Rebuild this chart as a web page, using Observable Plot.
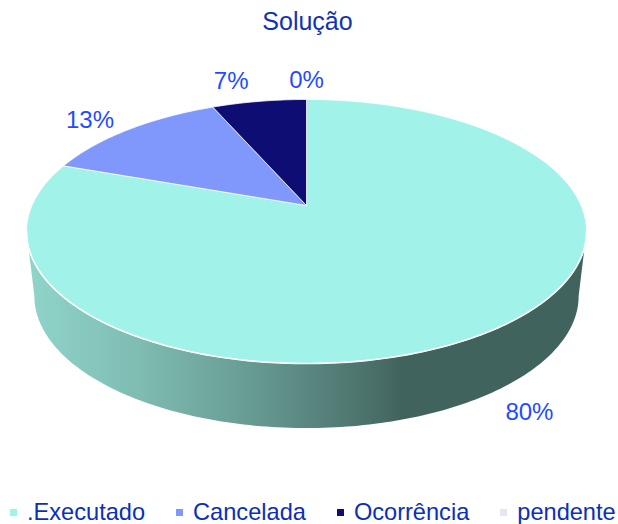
<!DOCTYPE html>
<html lang="pt">
<head>
<meta charset="utf-8">
<script src="https://cdn.jsdelivr.net/npm/d3@7"></script>
<script src="https://cdn.jsdelivr.net/npm/@observablehq/plot@0.6"></script>
<style>
  html, body { margin: 0; padding: 0; background: #fff; }
  #page { width: 618px; height: 524px; overflow: hidden; font-family: "Liberation Sans", Arial, sans-serif; position: relative; }
  #title { height: 40px; line-height: 42px; text-align: center; font-size: 25px; color: #0f33b5; padding-right: 3px; }
  #chart svg { display: block; background: transparent; }
  #legend { position: absolute; left: 10px; top: 501px; height: 23px; display: flex; gap: 31px; font-size: 23.6px; line-height: 23px; color: #0b2fb8; white-space: nowrap; }
  #legend .item { display: flex; align-items: center; gap: 10px; }
  #legend .swatch { width: 7px; height: 7px; display: block; }
</style>
</head>
<body>
<div id="page">
  <div id="title">Solução</div>
  <div id="chart"></div>
  <div id="legend"></div>
</div>
<script>
// Data
const categories = [".Executado", "Cancelada", "Ocorrência", "pendente"];
const shares = [80.4, 13.0, 6.6, 0];
const labels = ["80%", "13%", "7%", "0%"];
const colors = ["#a1f2e8", "#8098fb", "#0d0d73", "#e4e6f2"];

// Layout of the tilted disc
const apex = {x: 306, y: 205};
const depth = 64.5, baseShrink = 0.972, tilt = 0.197, radiusX = 274.5, radiusY = 126.9;
const labelNudge = [[34, 83], [-39, -9], [-28, -20], [0, -19]];
const wallStops = [[0, "#90d5ca"], [0.2, "#7fbcb2"], [0.42, "#64988f"], [0.62, "#4a6f69"], [0.67, "#41635e"], [1, "#41635e"]];

function rim(a) {
  const u = Math.sin(a), v = -Math.cos(a), w = 1 - tilt * v;
  return {x: apex.x + radiusX * u / w, y: apex.y + radiusY * v / w};
}
function base(a) {
  const p = rim(a);
  return {x: apex.x + (p.x - apex.x) * baseShrink, y: p.y + depth};
}
function sweep(a0, a1) {
  const n = Math.max(2, Math.ceil(Math.abs(a1 - a0) / (Math.PI / 180)));
  return d3.range(n + 1).map((i) => a0 + (a1 - a0) * i / n);
}

const arcs = d3.pie().sort(null).value((d) => d)(shares);
const slicePoints = arcs.filter((a) => a.value > 0).flatMap((a) => {
  const category = categories[a.index];
  return [{...apex, category}, ...sweep(a.startAngle, a.endAngle).map((t) => ({...rim(t), category})), {...apex, category}];
});

// Extremes of the disc seen from the viewer: where the wall starts and ends.
const sideAngle = Math.asin(tilt);
const wallFrom = Math.PI / 2 + sideAngle, wallTo = 3 * Math.PI / 2 - sideAngle;
const frontAngles = sweep(wallFrom, wallTo);
const wallPoints = [...frontAngles.map(rim), ...frontAngles.slice().reverse().map(base)];
const rimPoints = frontAngles.map(rim);

const labelMarks = arcs.map((a, i) => {
  const p = rim((a.startAngle + a.endAngle) / 2);
  return Plot.text([labels[i]], {
    x: () => p.x + labelNudge[i][0],
    y: () => p.y + labelNudge[i][1],
    text: (d) => d, fill: "#1f4cff", fontSize: 24,
    fontFamily: '"Liberation Sans", Arial, sans-serif', textAnchor: "middle"
  });
});

const plot = Plot.plot({
  width: 618, height: 450,
  marginTop: 0, marginRight: 0, marginBottom: 0, marginLeft: 0,
  x: {domain: [0, 618], range: [0, 618], axis: null},
  y: {domain: [40, 490], range: [0, 450], axis: null},
  color: {domain: categories, range: colors},
  marks: [
    () => {
      const ns = "http://www.w3.org/2000/svg";
      const defs = document.createElementNS(ns, "defs");
      const g = document.createElementNS(ns, "linearGradient");
      g.setAttribute("id", "wall");
      for (const [offset, color] of wallStops) {
        const s = document.createElementNS(ns, "stop");
        s.setAttribute("offset", offset);
        s.setAttribute("stop-color", color);
        g.appendChild(s);
      }
      defs.appendChild(g);
      return defs;
    },
    Plot.line(wallPoints, {x: "x", y: "y", fill: "url(#wall)", stroke: "none"}),
    Plot.line(slicePoints, {x: "x", y: "y", z: "category", fill: "category", stroke: "#ffffff", strokeWidth: 1, strokeOpacity: 0.75, strokeLinejoin: "round"}),
    Plot.line(rimPoints, {x: "x", y: "y", stroke: "#ffffff", strokeWidth: 1.6}),
    ...labelMarks
  ]
});
document.getElementById("chart").appendChild(plot);

const legend = d3.select("#legend");
categories.forEach((c, i) => {
  const item = legend.append("div").attr("class", "item");
  item.append("span").attr("class", "swatch").style("background", colors[i]);
  item.append("span").text(c);
});
</script>
</body>
</html>
